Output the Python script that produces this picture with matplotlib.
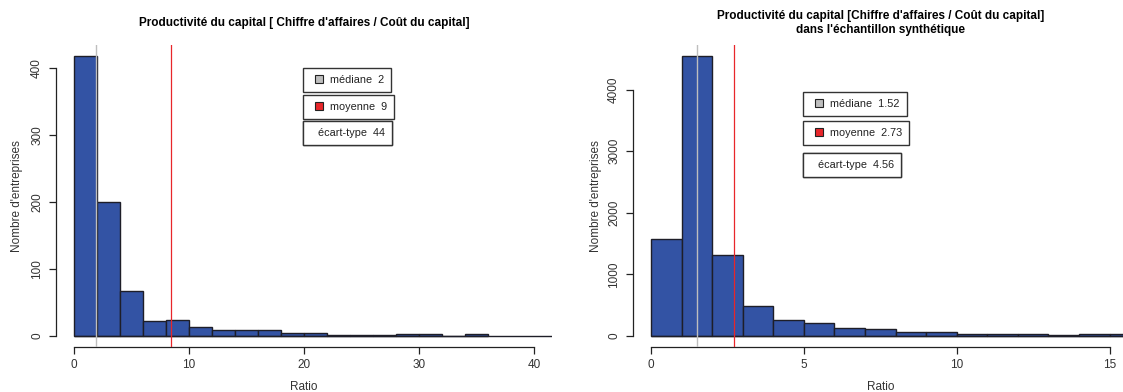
import matplotlib
matplotlib.use("Agg")
import matplotlib.pyplot as plt
from matplotlib.lines import Line2D

plt.rcParams['font.family'] = ['Liberation Sans', 'DejaVu Sans']

# data : histogramme de l'échantillon réel (classes de largeur 2)
left_edges = [0, 2, 4, 6, 8, 10, 12, 14, 16, 18, 20, 22, 24, 26, 28, 30, 32, 34]
left_counts = [418, 200, 67, 22, 24, 13, 8, 9, 8, 4, 4, 1, 1, 1, 3, 3, 0, 3]
left_width = 2
left_median = 1.9
left_mean = 8.45
left_stats = ["médiane  2", "moyenne  9", "écart-type  44"]
left_title = "Productivité du capital [ Chiffre d'affaires / Coût du capital]"
left_xticks = [0, 10, 20, 30, 40]
left_yticks = [0, 100, 200, 300, 400]

# data : échantillon synthétique (classes de largeur 1)
right_edges = [0, 1, 2, 3, 4, 5, 6, 7, 8, 9, 10, 11, 12, 13, 14, 15]
right_counts = [1573, 4544, 1306, 490, 261, 212, 125, 103, 65, 60, 27, 27, 22, 11, 27, 27]
right_width = 1
right_median = 1.52
right_mean = 2.73
right_stats = ["médiane  1.52", "moyenne  2.73", "écart-type  4.56"]
right_title = "Productivité du capital [Chiffre d'affaires / Coût du capital]\ndans l'échantillon synthétique"
right_xticks = [0, 5, 10, 15]
right_yticks = [0, 1000, 2000, 3000, 4000]

BAR = '#3353a4'
EDGE = '#1e1e28'
MED = '#bebebe'
MEAN = '#e8262a'
TXT = '#333333'

W, H = 1123, 392
fig = plt.figure(figsize=(W / 100, H / 100), dpi=100)


def px_axes(x0, x1, y0, y1):
    # pixel box (top-down) -> figure fraction
    return fig.add_axes([x0 / W, (H - y1) / H, (x1 - x0) / W, (y1 - y0) / H])


def draw_hist(ax, edges, counts, width, med, mean, stats, title, xticks, yticks,
              xlim, legend_pos):
    ax.bar(edges, counts, width=width, align='edge', color=BAR,
           edgecolor=EDGE, linewidth=1.0, zorder=2)
    # baseline of the empty classes beyond the data
    ax.hlines(0, edges[0], xlim[1], color=EDGE, lw=1.0, zorder=2)
    ymax = max(counts)
    ax.set_xlim(*xlim)
    ax.set_ylim(-0.04 * ymax, 1.04 * ymax)
    ax.axvline(med, color=MED, lw=1.0, zorder=3)
    ax.axvline(mean, color=MEAN, lw=0.9, zorder=3)

    for s in ['top', 'right']:
        ax.spines[s].set_visible(False)
    ax.spines['left'].set_bounds(yticks[0], yticks[-1])
    ax.spines['bottom'].set_bounds(xticks[0], xticks[-1])
    for s in ['left', 'bottom']:
        ax.spines[s].set_linewidth(0.9)
        ax.spines[s].set_color('#222222')
    ax.set_xticks(xticks)
    ax.set_yticks(yticks)
    ax.tick_params(axis='both', direction='out', length=5, width=0.9,
                   labelsize=8.5, colors='#222222', labelcolor=TXT)
    ax.tick_params(axis='x', pad=4)
    ax.tick_params(axis='y', pad=4, labelrotation=90)
    for lab in ax.get_yticklabels():
        lab.set_verticalalignment('center')

    ax.text(0.5, 1.073, title, transform=ax.transAxes, ha='center', va='center',
            fontsize=8.5, fontweight='bold', linespacing=1.25)
    ax.text(0.5, -0.1325, "Ratio", transform=ax.transAxes, ha='center',
            va='center', fontsize=8.5, color=TXT)

    handles = [Line2D([], [], ls='none', marker='s', markersize=6,
                      markerfacecolor=MED, markeredgecolor='#222222', markeredgewidth=0.8),
               Line2D([], [], ls='none', marker='s', markersize=6,
                      markerfacecolor=MEAN, markeredgecolor='#222222', markeredgewidth=0.8),
               Line2D([], [], ls='none')]
    for h, s, (lx, ly) in zip(handles, stats, legend_pos):
        is_sd = s.startswith("écart")
        leg = ax.legend([h], [s], loc='upper left', bbox_to_anchor=(lx, ly),
                        bbox_transform=ax.transAxes, borderaxespad=0,
                        fontsize=7.8, handlelength=1.6 if not is_sd else 0.0,
                        handletextpad=0.25 if not is_sd else 0.7,
                        borderpad=0.65, fancybox=False, framealpha=1,
                        edgecolor='#333333')
        leg.get_frame().set_linewidth(1.0)
        for t in leg.get_texts():
            t.set_color('#222222')
        ax.add_artist(leg)


ax1 = px_axes(55.6, 552.4, 45, 347)
draw_hist(ax1, left_edges, left_counts, left_width, left_median, left_mean,
          left_stats, left_title, left_xticks, left_yticks, (-1.6, 41.6),
          [(0.498, 0.924), (0.498, 0.834), (0.498, 0.748)])
ax1.text(-0.078, 0.5, "Nombre d'entreprises", transform=ax1.transAxes,
         rotation=90, ha='center', va='center', fontsize=8.5, color=TXT)

ax2 = px_axes(632.6, 1128, 45, 347)
draw_hist(ax2, right_edges, right_counts, right_width, right_median, right_mean,
          right_stats, right_title, right_xticks, right_yticks, (-0.6, 15.6),
          [(0.344, 0.844), (0.344, 0.748), (0.344, 0.642)])
ax2.text(-0.074, 0.5, "Nombre d'entreprises", transform=ax2.transAxes,
         rotation=90, ha='center', va='center', fontsize=8.5, color=TXT)

fig.savefig("out.png", dpi=100)
